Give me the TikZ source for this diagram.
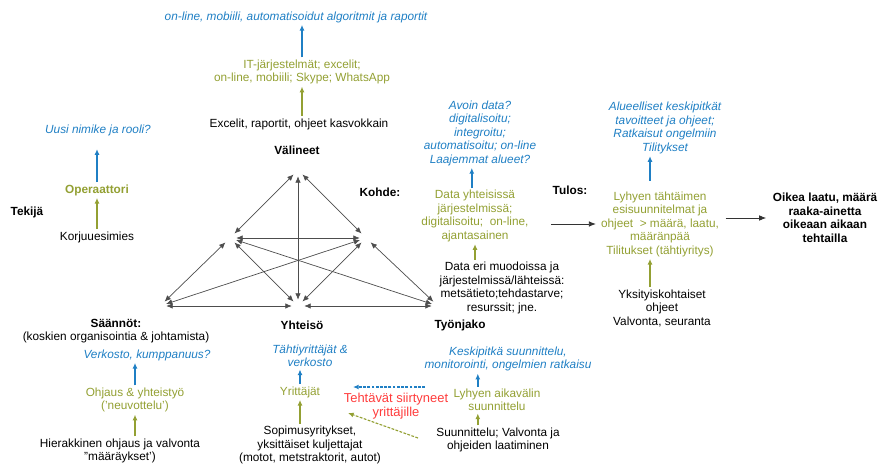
\documentclass[tikz,border=0pt]{standalone}
\usepackage{fontspec}
\setmainfont{Liberation Sans}
\usetikzlibrary{arrows.meta,positioning}
\definecolor{futureBlue}{HTML}{1F7FC4}
\definecolor{nowOlive}{HTML}{93A033}
\definecolor{shiftRed}{HTML}{FF3B3B}
\definecolor{linkGray}{HTML}{4D4D4D}

\begin{document}
\begin{tikzpicture}[
    x=0.025cm, y=-0.025cm,
    every node/.style={font=\fontsize{8.4pt}{9.6pt}\selectfont, align=center, inner sep=1.5pt},
    hdr/.style={font=\fontsize{8.4pt}{9.6pt}\selectfont\bfseries},
    past/.style={text=black},
    now/.style={text=nowOlive},
    future/.style={text=futureBlue, font=\fontsize{8.4pt}{9.6pt}\selectfont\itshape},
    shifted/.style={text=shiftRed, font=\fontsize{9.2pt}{10pt}\selectfont},
    vtx/.style={circle, minimum size=0.3cm, inner sep=0pt},
    link/.style={{Latex[length=4.5pt,width=3.8pt]}-{Latex[length=4.5pt,width=3.8pt]}, draw=linkGray, line width=0.5pt},
    upblue/.style={-{Latex[length=4pt,width=3.5pt]}, draw=futureBlue, line width=1.1pt},
    upolive/.style={-{Latex[length=4pt,width=3.5pt]}, draw=nowOlive, line width=1.1pt},
    flow/.style={-{Latex[length=5pt,width=4pt]}, draw=black!80, line width=0.6pt}
  ]
  \useasboundingbox (0,0) rectangle (878,465);

  \node[vtx] (V) at (298,170) {};
  \node[vtx] (T) at (230,238) {};
  \node[vtx] (K) at (366,238) {};
  \node[vtx] (S) at (160,306) {};
  \node[vtx] (Y) at (298,306) {};
  \node[vtx] (J) at (438,306) {};

  \draw[link] (V) -- (T);
  \draw[link] (V) -- (K);
  \draw[link] (V) -- (Y);
  \draw[link] (T) -- (K);
  \draw[link] (T) -- (S);
  \draw[link] (T) -- (Y);
  \draw[link] (T) -- (J);
  \draw[link] (K) -- (S);
  \draw[link] (K) -- (Y);
  \draw[link] (K) -- (J);
  \draw[link] (S) -- (Y);
  \draw[link] (Y) -- (J);

  \node[hdr] (hV) at (297,150) {Välineet};
  \node[past] (cur1) at (299,124) {Excelit, raportit, ohjeet kasvokkain};
  \node[now] (now1) at (302,72) {IT-järjestelmät; excelit;\\on-line, mobiili; Skype; WhatsApp};
  \node[future] (fut1) at (296,17) {on-line, mobiili, automatisoidut algoritmit ja raportit};

  \node[hdr] (hT) at (27,212) {Tekijä};
  \node[past] (cur2) at (97,237) {Korjuuesimies};
  \node[now, hdr] (now2) at (97,190) {Operaattori};
  \node[future] (fut2) at (98,130) {Uusi nimike ja rooli?};

  \node[hdr] (hK) at (380,192) {Kohde:};
  \node[past] (cur3) at (502,288) {Data eri muodoissa ja\\järjestelmissä/lähteissä:\\metsätieto;tehdastarve;\\resurssit; jne.};
  \node[now] (now3) at (475,216) {Data yhteisissä\\järjestelmissä;\\digitalisoitu;\ \ on-line,\\ajantasainen};
  \node[future] (fut3) at (480,133) {Avoin data?\\digitalisoitu;\\integroitu;\\automatisoitu; on-line\\Laajemmat alueet?};

  \node[hdr] (hR) at (570,190) {Tulos:};
  \node[past] (cur4) at (662,308) {Yksityiskohtaiset\\ohjeet\\Valvonta, seuranta};
  \node[now] (now4) at (660,224) {Lyhyen tähtäimen\\esisuunnitelmat ja\\ohjeet\ \ > määrä, laatu,\\määränpää\\Tilitukset (tähtiyritys)};
  \node[future] (fut4) at (665,128) {Alueelliset keskipitkät\\tavoitteet ja ohjeet;\\Ratkaisut ongelmiin\\Tilitykset};
  \node[hdr] (goal) at (825,218) {Oikea laatu, määrä\\raaka-ainetta\\oikeaan aikaan\\tehtailla};

  \node (hS) at (116,331) {\textbf{Säännöt:}\\(koskien organisointia \& johtamista)};
  \node[future] (fut5) at (147,355) {Verkosto, kumppanuus?};
  \node[now] (now5) at (135,400) {Ohjaus \& yhteistyö\\(’neuvottelu’)};
  \node[past] (cur5) at (120,451) {Hierakkinen ohjaus ja valvonta\\”määräykset’)};

  \node[hdr] (hY) at (302,325) {Yhteisö};
  \node[future] (fut6) at (310,356) {Tähtiyrittäjät \&\\verkosto};
  \node[now] (now6) at (300,392) {Yrittäjät};
  \node[past] (cur6) at (310,445) {Sopimusyritykset,\\yksittäiset kuljettajat\\(motot, metstraktorit, autot)};

  \node[hdr] (hJ) at (460,325) {Työnjako};
  \node[future] (fut7) at (508,359) {Keskipitkä suunnittelu,\\monitorointi, ongelmien ratkaisu};
  \node[now] (now7) at (497,400) {Lyhyen aikavälin\\suunnittelu};
  \node[past] (cur7) at (498,440) {Suunnittelu; Valvonta ja\\ohjeiden laatiminen};
  \node[shifted] (moved) at (396,406) {Tehtävät siirtyneet\\yrittäjille};

  \coordinate (blueFrom) at (425,387);
  \coordinate (blueTo) at (353,387);
  \coordinate (oliveFrom) at (418,438);
  \coordinate (oliveTo) at (348,413);

  \draw[upolive] (cur1.north -| now1.south) -- (now1.south);
  \draw[upblue] (now1.north) -- (fut1.south -| now1.north);
  \draw[upolive] (cur2.north) -- (now2.south);
  \draw[upblue, shorten >=8pt] (now2.north) -- (now2.north |- fut2.south);
  \draw[upolive] (cur3.north -| now3.south) -- (now3.south);
  \draw[upblue] ([xshift=-0.08cm]now3.north) -- ([xshift=-0.08cm]now3.north |- fut3.south);
  \draw[upolive] ([xshift=-0.25cm]now4.south |- cur4.north) -- ([xshift=-0.25cm]now4.south);
  \draw[upblue, shorten <=6pt] ([xshift=-0.25cm]now4.north) -- ([xshift=-0.25cm]now4.north |- fut4.south);
  \draw[upolive] (cur5.north -| now5.south) -- (now5.south);
  \draw[upblue] (now5.north) -- (now5.north |- fut5.south);
  \draw[upolive] (cur6.north -| now6.south) -- (now6.south);
  \draw[upblue] (now6.north) -- (now6.north |- fut6.south);
  \draw[upolive] ([xshift=-0.48cm]now7.south |- cur7.north) -- ([xshift=-0.48cm]now7.south);
  \draw[upblue] ([xshift=-0.48cm]now7.north) -- ([xshift=-0.48cm]now7.north |- fut7.south);

  \draw[flow, shorten >=2pt] ([xshift=0.5cm]now3.east |- now4.west) -- (now4.west);
  \draw[flow, shorten <=3pt, shorten >=3pt] (now4.east |- goal.west) -- (goal.west);

  \draw[-{Latex[length=4pt,width=3.5pt]}, draw=futureBlue, line width=0.8pt, dash pattern=on 2pt off 1pt] (blueFrom) -- (blueTo);
  \draw[-{Latex[length=4pt,width=3.5pt]}, draw=nowOlive, line width=0.8pt, dash pattern=on 2pt off 1pt] (oliveFrom) -- (oliveTo);
\end{tikzpicture}
\end{document}
